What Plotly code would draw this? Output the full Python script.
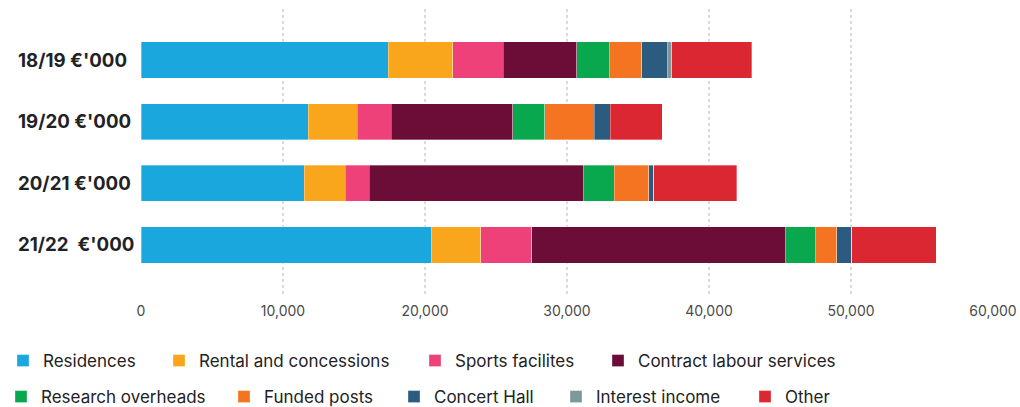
import plotly.graph_objects as go

# Financial years (rows, top to bottom)
years = ["18/19 €'000", "19/20 €'000", "20/21 €'000", "21/22 \u00a0€'000"]

# Income streams, €'000 per year
residences = [17400, 11780, 11510, 20450]
rental = [4550, 3440, 2870, 3470]
sports = [3560, 2420, 1680, 3610]
contract_labour = [5160, 8540, 15070, 17840]
research_overheads = [2310, 2250, 2200, 2110]
funded_posts = [2300, 3500, 2420, 1530]
concert_hall = [1800, 1130, 350, 990]
interest_income = [310, 0, 0, 70]
other = [5610, 3640, 5850, 5930]

x_ticks = [0, 10000, 20000, 30000, 40000, 50000, 60000]

series = [
    ("Residences", residences, "#1aa7de"),
    ("Rental and concessions", rental, "#f9a61c"),
    ("Sports facilites", sports, "#ee4079"),
    ("Contract labour services", contract_labour, "#6b0d36"),
    ("Research overheads", research_overheads, "#09a84f"),
    ("Funded posts", funded_posts, "#f47422"),
    ("Concert Hall", concert_hall, "#2c5b80"),
    ("Interest income", interest_income, "#7f9799"),
    ("Other", other, "#db2732"),
]

# Legend entry placement (left edge of swatch, row centre) in pixels
legend_slots = [
    (18, 361), (174, 361), (430, 361), (613, 361),
    (16, 397), (239, 397), (409, 397), (571, 397), (760, 397),
]

W, H = 1020, 407
FONT = "Inter, 'Noto Sans', sans-serif"

fig = go.Figure()
legend_layouts = {}
for i, (name, vals, color) in enumerate(series):
    key = "legend" if i == 0 else f"legend{i + 1}"
    fig.add_trace(go.Bar(
        y=years, x=vals, name=name, orientation="h",
        marker=dict(color=color, line=dict(color="rgba(255,255,255,0.55)", width=0.6)),
        width=0.59, legend=key, showlegend=True,
    ))
    px, py = legend_slots[i]
    legend_layouts[key] = dict(
        xref="container", yref="container",
        x=(px - 15) / W, y=1 - py / H,
        xanchor="left", yanchor="middle",
        orientation="h", bgcolor="rgba(0,0,0,0)", borderwidth=0,
        font=dict(family=FONT, size=17, color="#222222"),
        itemclick=False, itemdoubleclick=False,
    )

# Row labels, left aligned in the margin
annotations = [
    dict(xref="paper", yref="y", x=(16 - 141) / 852, y=yr, text=f"<b>{yr}</b>",
         showarrow=False, xanchor="left", yanchor="middle",
         font=dict(family=FONT, size=18.7, color="#1f2326"))
    for yr in years
]

fig.update_layout(
    width=W, height=H,
    margin=dict(l=141, r=27, t=9, b=111, autoexpand=False),
    barmode="stack",
    plot_bgcolor="white", paper_bgcolor="white",
    annotations=annotations,
    xaxis=dict(
        range=[0, 60000], tickvals=x_ticks, tickformat=",d",
        showgrid=True, gridcolor="#dadada", griddash="dot", gridwidth=1.5,
        zeroline=False, showline=False, automargin=False,
        ticks="outside", ticklen=2, tickcolor="rgba(0,0,0,0)",
        tickfont=dict(family=FONT, size=14, color="#4a4a4a"),
    ),
    yaxis=dict(
        categoryorder="array", categoryarray=years,
        range=[3.83, -0.83], showticklabels=False, automargin=False,
        showgrid=False, zeroline=False, showline=False,
    ),
    **legend_layouts,
)

fig.write_html("out.html")
